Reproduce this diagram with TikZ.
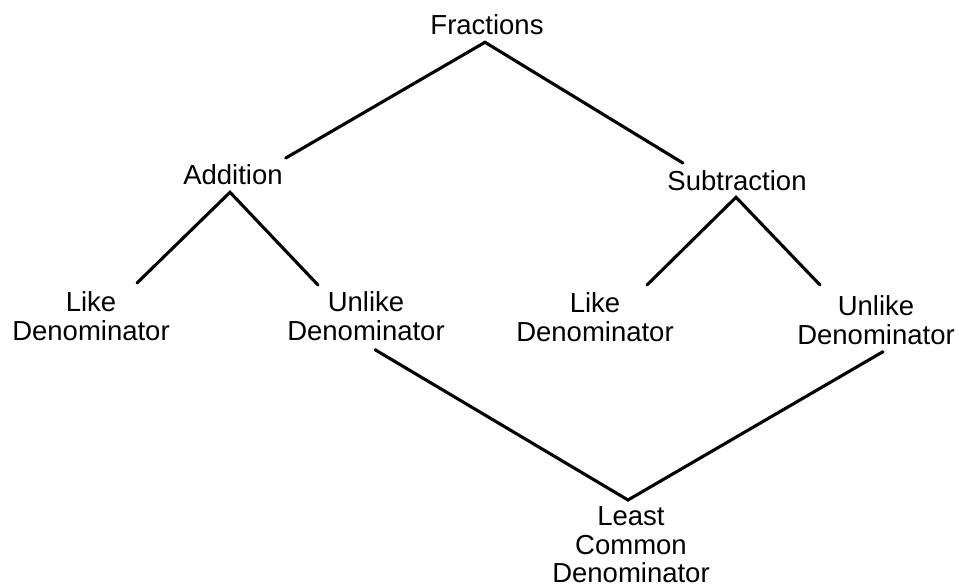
\documentclass[tikz,border=0pt]{standalone}
\usepackage{fontspec}
\setmainfont{Liberation Sans}
\begin{document}
\begin{tikzpicture}[x=1pt,y=-1pt,
  lbl/.style={inner sep=0pt,outer sep=0pt,align=center,font=\fontsize{27.5}{28.5}\selectfont},
  conn/.style={line width=3.1pt,line cap=round}]
\useasboundingbox (0,0) rectangle (959,588);
% single-line nodes placed at baseline
\node[lbl,anchor=base] (frac) at (487,35) {Fractions};
\node[lbl,anchor=base] (add) at (233,185) {Addition};
\node[lbl,anchor=base] (sub) at (737,191) {Subtraction};
% multi-line nodes placed at top of first line
\node[lbl,anchor=north] (lik1) at (91,292) {Like\\Denominator};
\node[lbl,anchor=north] (unl1) at (366,292) {Unlike\\Denominator};
\node[lbl,anchor=north] (lik2) at (595,293) {Like\\Denominator};
\node[lbl,anchor=north] (unl2) at (876,296) {Unlike\\Denominator};
\node[lbl,anchor=north] (lcd) at (631,507) {Least\\Common\\Denominator};
% connectors
\draw[conn] ([xshift=3pt,yshift=7pt]add.north east) -- ([xshift=-2pt,yshift=-7pt]frac.south)
  -- ([xshift=-54pt,yshift=8pt]sub.north);
\draw[conn] ([xshift=46pt,yshift=9pt]lik1.north) -- ([xshift=-3pt,yshift=-7pt]add.south)
  -- ([xshift=-48pt,yshift=7pt]unl1.north);
\draw[conn] ([xshift=52pt,yshift=8pt]lik2.north) -- ([xshift=-1pt,yshift=-6pt]sub.south)
  -- ([xshift=-56pt,yshift=11pt]unl2.north);
\draw[conn] ([xshift=9pt,yshift=-9pt]unl1.south) -- ([xshift=-3pt,yshift=7pt]lcd.north)
  -- ([xshift=7pt,yshift=-7pt]unl2.south);
\end{tikzpicture}
\end{document}
